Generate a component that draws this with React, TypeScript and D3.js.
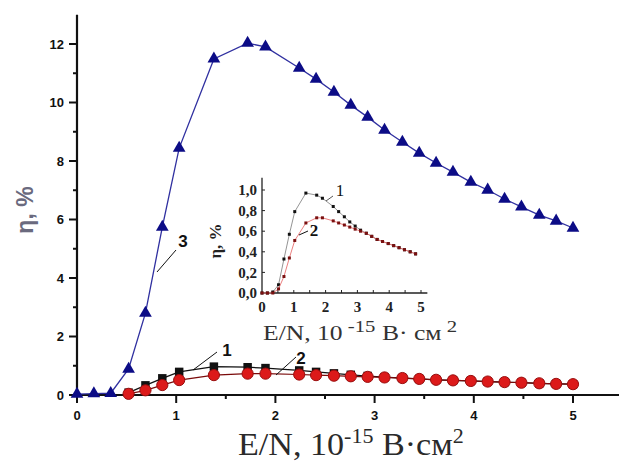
import React from "react";
import * as d3 from "d3";

// E/N values, 10^-15 V·cm^2
const xValues = [0, 0.17, 0.34, 0.52, 0.69, 0.86, 1.03, 1.38, 1.72, 1.9, 2.24, 2.41, 2.59, 2.76, 2.93, 3.1, 3.28, 3.45, 3.62, 3.79, 3.97, 4.14, 4.31, 4.48, 4.66, 4.83, 5.0];
// curve 3 (blue triangles)
const series3 = [0.03, 0.05, 0.06, 0.89, 2.8, 5.74, 8.44, 11.49, 12.03, 11.9, 11.18, 10.8, 10.36, 9.91, 9.5, 9.06, 8.65, 8.27, 7.93, 7.62, 7.28, 7.01, 6.7, 6.43, 6.15, 5.95, 5.71];
// curve 1 (black squares)
const series1 = [0, 0, 0.01, 0.08, 0.33, 0.57, 0.79, 0.97, 0.95, 0.92, 0.84, 0.79, 0.74, 0.69, 0.65, 0.61, 0.58, 0.55, 0.52, 0.5, 0.48, 0.46, 0.44, 0.42, 0.4, 0.38, 0.37];
// curve 2 (red circles)
const series2 = [0, 0, 0, 0.04, 0.16, 0.34, 0.51, 0.68, 0.73, 0.73, 0.7, 0.68, 0.66, 0.64, 0.62, 0.6, 0.58, 0.55, 0.52, 0.5, 0.48, 0.46, 0.44, 0.42, 0.4, 0.38, 0.37];

const mainXTicks = [0, 1, 2, 3, 4, 5];
const mainYTicks = [0, 2, 4, 6, 8, 10, 12];
const insetXTicks = [0, 1, 2, 3, 4, 5];
const insetYTicks = [0, 0.2, 0.4, 0.6, 0.8, 1.0];
const insetYLabels = ["0,0", "0,2", "0,4", "0,6", "0,8", "1,0"];

const W = 619;
const H = 464;

export default function App() {
  // main scales
  const x = d3.scaleLinear().domain([0, 5.5]).range([77, 77 + 5.5 * 99.2]);
  const y = d3.scaleLinear().domain([0, 13]).range([395, 395 - 13 * 29.25]);
  // inset scales
  const xi = d3.scaleLinear().domain([0, 5.2]).range([262, 262 + 5.2 * 31.8]);
  const yi = d3.scaleLinear().domain([0, 1.12]).range([293, 293 - 1.12 * 103]);

  const idx = xValues.map((_, i) => i);
  const mainLowIdx = idx.filter((i) => i >= 3);
  const insetIdx = idx.filter((i) => i < xValues.length - 1);

  const line = (sx: any, sy: any, vals: number[], ids: number[]) =>
    d3
      .line<number>()
      .x((i) => sx(xValues[i]))
      .y((i) => sy(vals[i]))(ids) || "";

  const tri = d3.symbol().type(d3.symbolTriangle).size(70)() || "";
  const sq = d3.symbol().type(d3.symbolSquare).size(72)() || "";

  const minorX = d3.range(0.5, 5.5, 1);
  const minorY = d3.range(1, 13, 2);

  const sans = "Liberation Sans, Arial, sans-serif";
  const serif = "Liberation Serif, Times New Roman, serif";

  return (
    <svg
      width={W}
      height={H}
      style={{ position: "absolute", left: 0, top: 0, background: "#fff" }}
    >
      <rect x={0} y={0} width={W} height={H} fill="#fff" />

      {/* ===== main axes ===== */}
      <line x1={x(0)} x2={x(0)} y1={y(13)} y2={y(0) + 1} stroke="#111" strokeWidth={2.2} />
      <line x1={x(0) - 1} x2={W} y1={y(0)} y2={y(0)} stroke="#111" strokeWidth={2.2} />
      {mainYTicks.map((t) => (
        <g key={"my" + t}>
          <line x1={x(0) - 8} x2={x(0)} y1={y(t)} y2={y(t)} stroke="#111" strokeWidth={2} />
          <text
            x={x(0) - 13}
            y={y(t)}
            dy="0.36em"
            textAnchor="end"
            fontFamily={sans}
            fontWeight="bold"
            fontSize={13}
            fill="#111"
          >
            {t}
          </text>
        </g>
      ))}
      {minorY.map((t) => (
        <line key={"mym" + t} x1={x(0) - 4} x2={x(0)} y1={y(t)} y2={y(t)} stroke="#111" strokeWidth={2} />
      ))}
      {mainXTicks.map((t) => (
        <g key={"mx" + t}>
          <line x1={x(t)} x2={x(t)} y1={y(0)} y2={y(0) + 8} stroke="#111" strokeWidth={2} />
          <text
            x={x(t)}
            y={420}
            textAnchor="middle"
            fontFamily={sans}
            fontWeight="bold"
            fontSize={13}
            fill="#111"
          >
            {t}
          </text>
        </g>
      ))}
      {minorX.map((t) => (
        <line key={"mxm" + t} x1={x(t)} x2={x(t)} y1={y(0)} y2={y(0) + 4} stroke="#111" strokeWidth={2} />
      ))}

      {/* main axis titles */}
      <text
        transform="translate(33,210) rotate(-90)"
        textAnchor="middle"
        fontFamily={sans}
        fontWeight="bold"
        fontSize={23}
        fill="#6a6a7e"
      >
        η, %
      </text>
      <text
        transform="translate(238,455) scale(1.1,1)"
        x={0}
        y={0}
        fontFamily={serif}
        fontSize={31}
        fill="#2a2a2a"
      >
        E/N, 10
        <tspan dy={-12} fontSize={20}>-15</tspan>
        <tspan dy={12}> В·см</tspan>
        <tspan dy={-12} fontSize={20}>2</tspan>
      </text>

      {/* ===== main series ===== */}
      <path d={line(x, y, series1, mainLowIdx)} fill="none" stroke="#111" strokeWidth={1.2} />
      {mainLowIdx.map((i) => (
        <path
          key={"s1" + i}
          d={sq}
          transform={`translate(${x(xValues[i])},${y(series1[i])})`}
          fill="#111"
        />
      ))}
      <path d={line(x, y, series2, mainLowIdx)} fill="none" stroke="#7a0a0a" strokeWidth={1.2} />
      {mainLowIdx.map((i) => (
        <circle
          key={"s2" + i}
          cx={x(xValues[i])}
          cy={y(series2[i])}
          r={5.6}
          fill="#dc1a1a"
          stroke="#9a0e0e"
          strokeWidth={1}
        />
      ))}
      <path d={line(x, y, series3, idx)} fill="none" stroke="#3030a0" strokeWidth={1.3} />
      {idx.map((i) => (
        <path
          key={"s3" + i}
          d={tri}
          transform={`translate(${x(xValues[i])},${y(series3[i])})`}
          fill="#0c0c86"
        />
      ))}

      {/* main annotations */}
      <line x1={176} y1={250} x2={157} y2={272} stroke="#111" strokeWidth={1} />
      <text x={183} y={247} textAnchor="middle" fontFamily={sans} fontWeight="bold" fontSize={17} fill="#111">
        3
      </text>
      <line x1={217} y1={352} x2={193} y2={370} stroke="#111" strokeWidth={1} />
      <text x={227} y={356} textAnchor="middle" fontFamily={sans} fontWeight="bold" fontSize={17} fill="#111">
        1
      </text>
      <line x1={296} y1={357} x2={276} y2={375} stroke="#111" strokeWidth={1} />
      <text x={301} y={364} textAnchor="middle" fontFamily={sans} fontWeight="bold" fontSize={17} fill="#111">
        2
      </text>

      {/* ===== inset ===== */}
      <line x1={xi(0)} x2={xi(0)} y1={yi(1.12)} y2={yi(0)} stroke="#222" strokeWidth={1.3} />
      <line x1={xi(0)} x2={xi(5.2)} y1={yi(0)} y2={yi(0)} stroke="#222" strokeWidth={1.3} />
      {insetYTicks.map((t, k) => (
        <g key={"iy" + t}>
          <line x1={xi(0)} x2={xi(0) + 3} y1={yi(t)} y2={yi(t)} stroke="#222" strokeWidth={1} />
          <text
            x={257}
            y={yi(t)}
            dy="0.35em"
            textAnchor="end"
            fontFamily={serif}
            fontWeight="bold"
            fontSize={15}
            fill="#222"
          >
            {insetYLabels[k]}
          </text>
        </g>
      ))}
      {d3.range(0.5, 5.2, 0.5).map((t) => (
        <line key={"ixm" + t} x1={xi(t)} x2={xi(t)} y1={yi(0)} y2={yi(0) - 3} stroke="#222" strokeWidth={1} />
      ))}
      {insetXTicks.map((t) => (
        <text
          key={"ix" + t}
          x={xi(t)}
          y={312}
          textAnchor="middle"
          fontFamily={serif}
          fontWeight="bold"
          fontSize={15}
          fill="#222"
        >
          {t}
        </text>
      ))}
      <text
        transform="translate(221,241) rotate(-90)"
        textAnchor="middle"
        fontFamily={serif}
        fontWeight="bold"
        fontSize={17}
        fill="#222"
      >
        η, %
      </text>
      <text
        transform="translate(263,340) scale(1.22,1)"
        x={0}
        y={0}
        fontFamily={serif}
        fontSize={21}
        fill="#333"
      >
        E/N, 10
        <tspan dy={-8} fontSize={17}> -15</tspan>
        <tspan dy={8}> В· см</tspan>
        <tspan dy={-8} fontSize={17}> 2</tspan>
      </text>

      <path d={line(xi, yi, series1, insetIdx)} fill="none" stroke="#888" strokeWidth={0.9} />
      {insetIdx.map((i) => (
        <rect
          key={"i1" + i}
          x={xi(xValues[i]) - 1.5}
          y={yi(series1[i]) - 1.5}
          width={3}
          height={3}
          fill="#111"
        />
      ))}
      <path d={line(xi, yi, series2, insetIdx)} fill="none" stroke="#e87070" strokeWidth={0.9} />
      {insetIdx.map((i) => (
        <rect
          key={"i2" + i}
          x={xi(xValues[i]) - 1.5}
          y={yi(series2[i]) - 1.5}
          width={3}
          height={3}
          fill="#7a1010"
        />
      ))}
      <line x1={333} y1={196} x2={326} y2={201} stroke="#444" strokeWidth={0.9} />
      <text x={340} y={196} textAnchor="middle" fontFamily={serif} fontSize={17} fill="#111">
        1
      </text>
      <line x1={308} y1={231} x2={299} y2={235} stroke="#111" strokeWidth={1} />
      <text x={314} y={236} textAnchor="middle" fontFamily={serif} fontWeight="bold" fontSize={17} fill="#111">
        2
      </text>
    </svg>
  );
}
